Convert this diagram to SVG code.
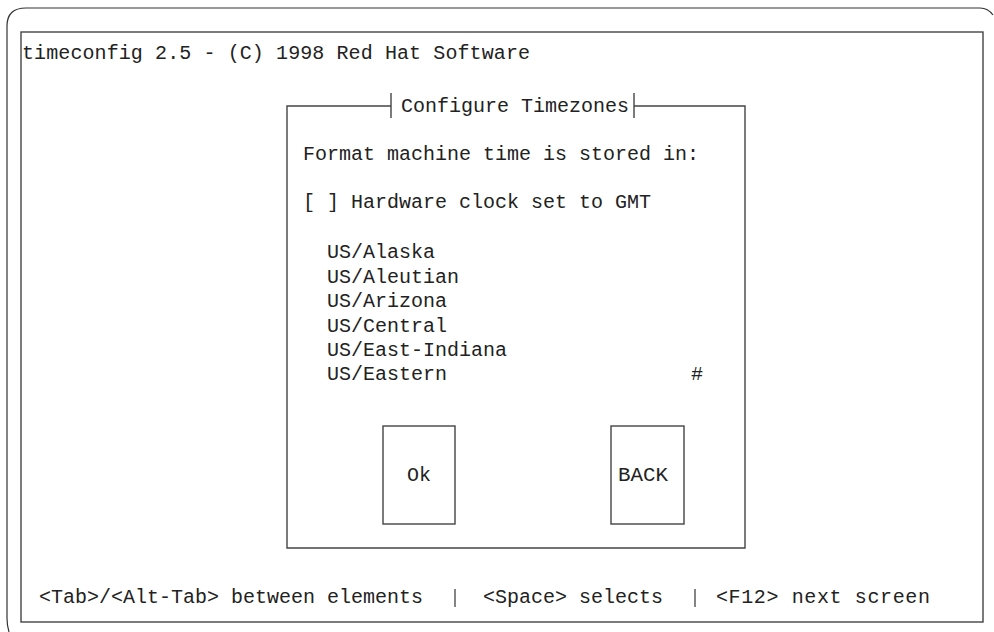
<svg xmlns="http://www.w3.org/2000/svg" width="994" height="632" viewBox="0 0 994 632">
<style>
  .t { font-family: "Liberation Mono", "Courier New", monospace; font-size: 20px; fill: #222; }
  .ln { fill: none; stroke: #444; stroke-width: 1.4; }
  .th { fill: none; stroke: #333; stroke-width: 1.2; }
</style>
<rect width="994" height="632" fill="#ffffff"/>
<g id="page-frame">
  <path class="th" d="M 9 632 Q 7 626 7 618 L 7 26 Q 7 8 26 8 L 980 8 Q 988 8 993 15"/>
</g>
<g id="screen">
  <rect class="ln" x="21" y="32" width="962" height="590"/>
  <text class="t" x="22" y="59" textLength="508">timeconfig 2.5 - (C) 1998 Red Hat Software</text>
</g>
<g id="dialog">
  <path class="ln" d="M 391 106 L 287 106 L 287 548 L 745 548 L 745 106 L 634 106"/>
  <line class="ln" x1="391" y1="93" x2="391" y2="118"/>
  <line class="ln" x1="634" y1="93" x2="634" y2="118"/>
  <text class="t" x="401" y="112">Configure Timezones</text>
  <text class="t" x="303" y="160">Format machine time is stored in:</text>
  <text class="t" x="303" y="208">[ ] Hardware clock set to GMT</text>
</g>
<g id="timezone-list">
  <text class="t" x="327" y="258">US/Alaska</text>
  <text class="t" x="327" y="283">US/Aleutian</text>
  <text class="t" x="327" y="307">US/Arizona</text>
  <text class="t" x="327" y="332">US/Central</text>
  <text class="t" x="327" y="356">US/East-Indiana</text>
  <text class="t" x="327" y="380">US/Eastern</text>
  <text class="t" x="691" y="380">#</text>
</g>
<g id="button-ok">
  <rect class="ln" x="383" y="426" width="72" height="98"/>
  <text class="t" x="419" y="481" text-anchor="middle">Ok</text>
</g>
<g id="button-back">
  <rect class="ln" x="611" y="426" width="73" height="98"/>
  <text class="t" x="643" y="481" text-anchor="middle" textLength="50" lengthAdjust="spacingAndGlyphs">BACK</text>
</g>
<g id="footer">
  <text class="t" x="39" y="603">&lt;Tab&gt;/&lt;Alt-Tab&gt; between elements</text>
  <line class="th" x1="455" y1="589" x2="455" y2="607"/>
  <text class="t" x="483" y="603">&lt;Space&gt; selects</text>
  <line class="th" x1="695" y1="589" x2="695" y2="607"/>
  <text class="t" x="716" y="603" textLength="214">&lt;F12&gt; next screen</text>
</g>
<g id="connectors"/>
</svg>
